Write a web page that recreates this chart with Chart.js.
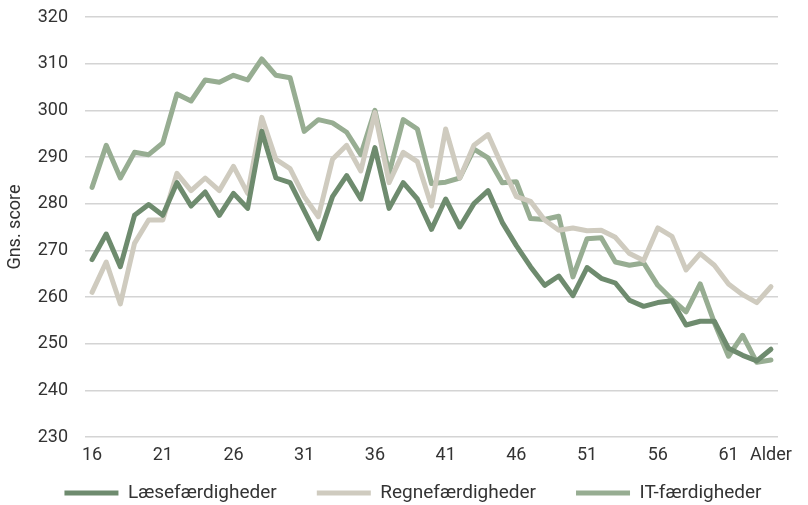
<!DOCTYPE html>
<html>
<head>
<meta charset="utf-8">
<script src="https://cdn.jsdelivr.net/npm/chart.js@4/dist/chart.umd.min.js"></script>
<style>
html,body{margin:0;padding:0;background:#fff;}
#wrap{width:808px;height:505px;position:relative;}
</style>
</head>
<body>
<div id="wrap"><canvas id="c" width="808" height="505"></canvas></div>
<script>
const ages = [16,17,18,19,20,21,22,23,24,25,26,27,28,29,30,31,32,33,34,35,36,37,38,39,40,41,42,43,44,45,46,47,48,49,50,51,52,53,54,55,56,57,58,59,60,61,62,63,64];
const lastLabel = "Alder";
const seriesNames = ["Læsefærdigheder","Regnefærdigheder","IT-færdigheder"];
const laese = [268,273.5,266.5,277.5,279.8,277.5,284.5,279.5,282.5,277.5,282.2,279,295.5,285.5,284.5,278.5,272.5,281.5,286,281,292,279,284.5,281,274.5,281,275,280,282.8,276,271,266.5,262.5,264.5,260.3,266.3,264,263,259.3,258,258.8,259.2,254,254.8,254.8,249,247.5,246.3,248.8];
const regne = [261,267.5,258.5,271.5,276.5,276.5,286.5,282.8,285.5,282.8,288,282.2,298.5,289.5,287.5,281.5,277.2,289.5,292.5,287,299.5,284.5,291,289,279.5,296,285.5,292.5,294.8,288,281.5,280.5,276.5,274.3,274.8,274.2,274.3,272.8,269.3,267.8,274.8,273,265.8,269.3,266.8,262.8,260.5,258.8,262.2];
const it = [283.5,292.5,285.5,291,290.5,293,303.5,302,306.5,306,307.5,306.5,311,307.5,307,295.5,298,297.3,295.3,290.5,300,286.5,298,296,284.3,284.6,285.5,291.7,289.8,284.5,284.7,276.8,276.6,277.3,264.3,272.5,272.7,267.5,266.8,267.3,262.5,259.5,256.8,262.8,254.5,247.3,251.8,246,246.5];
const yTitle = "Gns. score";

const colors = ["#6e8b6e","#cfcbbf","#97ad92"];
const font = "Roboto, 'Liberation Sans', sans-serif";
const textColor = "#333333";

const ds = [laese, regne, it].map((d,i)=>({
  label: seriesNames[i],
  data: d,
  borderColor: colors[i],
  backgroundColor: colors[i],
  borderWidth: 5,
  pointRadius: 0,
  tension: 0,
  borderJoinStyle: 'round',
  borderCapStyle: 'round',
  fill: false
}));

// place legend row (centre y 493, centred on x 413)
const legendPlace = {
  id: 'legendPlace',
  afterLayout(chart) {
    const lg = chart.legend;
    if (!lg) return;
    const pad = lg.options.labels.padding;
    const fs = lg.options.labels.font.size;
    const newTop = 493 - fs / 2 - pad;
    lg.top = newTop;
    lg.bottom = chart.height;
    lg.height = lg.bottom - lg.top;
    const dx = 413 - (lg.left + lg.right) / 2;
    lg.left += dx; lg.right += dx;
  }
};

new Chart(document.getElementById('c'), {
  type: 'line',
  data: { labels: ages, datasets: ds },
  plugins: [legendPlace],
  options: {
    responsive: false,
    animation: false,
    devicePixelRatio: 1,
    layout: { padding: { top: 17, right: 30, left: 0, bottom: 0 } },
    plugins: {
      tooltip: { enabled: false },
      legend: {
        position: 'bottom',
        maxHeight: 30,
        labels: {
          boxWidth: 54,
          boxHeight: 5,
          padding: 40,
          color: textColor,
          font: { family: font, size: 19 },
          generateLabels: (chart) => chart.data.datasets.map((d,i)=>({
            text: d.label,
            fillStyle: d.borderColor,
            strokeStyle: d.borderColor,
            lineWidth: 0,
            hidden: false,
            datasetIndex: i,
            fontColor: textColor
          }))
        }
      }
    },
    scales: {
      x: {
        offset: true,
        grid: { display: false, drawTicks: false },
        border: { display: false },
        ticks: {
          autoSkip: false,
          maxRotation: 0,
          padding: 8,
          color: textColor,
          font: { family: font, size: 18 },
          callback: function(v, idx) {
            if (idx === ages.length - 1) return lastLabel;
            return idx % 5 === 0 ? String(ages[idx]) : null;
          }
        },
        afterFit: (s) => { s.height = 38; }
      },
      y: {
        min: 230, max: 320,
        grid: { color: '#d4d4d4', lineWidth: 1.5, drawTicks: false },
        border: { display: false },
        title: { display: true, text: yTitle, color: textColor, font: { family: font, size: 18 }, padding: { top: 5, bottom: 0 } },
        ticks: { stepSize: 10, padding: 17, color: textColor, font: { family: font, size: 18 } },
        afterFit: (s) => { s.width = 85; s.paddingTop = 0; s.paddingBottom = 0; }
      }
    }
  }
});
</script>
</body>
</html>
